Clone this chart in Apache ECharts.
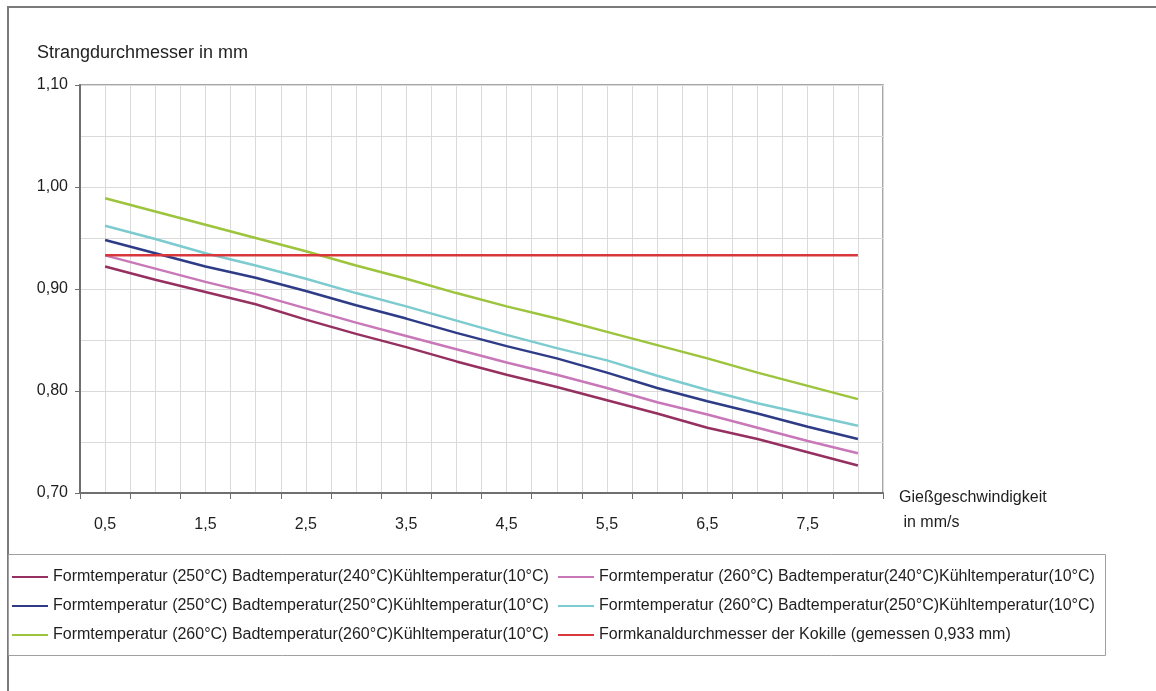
<!DOCTYPE html>
<html>
<head>
<meta charset="utf-8">
<script src="https://cdn.jsdelivr.net/npm/echarts@6/dist/echarts.min.js"></script>
<style>
html,body{margin:0;padding:0;background:#fff;}
#chart{width:1156px;height:691px;}
</style>
</head>
<body>
<div id="chart"></div>
<script>
// Gießgeschwindigkeit in mm/s
const speeds = [0.5,1.0,1.5,2.0,2.5,3.0,3.5,4.0,4.5,5.0,5.5,6.0,6.5,7.0,7.5,8.0];
// Strangdurchmesser in mm
const f250b240 = [0.922,0.909,0.897,0.885,0.870,0.856,0.843,0.829,0.816,0.804,0.791,0.778,0.764,0.753,0.740,0.727];
const f260b240 = [0.933,0.920,0.907,0.895,0.881,0.867,0.854,0.841,0.828,0.816,0.803,0.789,0.777,0.764,0.751,0.739];
const f250b250 = [0.948,0.935,0.922,0.911,0.898,0.884,0.871,0.857,0.844,0.832,0.818,0.803,0.790,0.778,0.765,0.753];
const f260b250 = [0.962,0.949,0.935,0.923,0.910,0.896,0.883,0.869,0.855,0.842,0.830,0.815,0.801,0.788,0.777,0.766];
const f260b260 = [0.989,0.976,0.963,0.950,0.937,0.923,0.910,0.896,0.883,0.871,0.858,0.845,0.832,0.818,0.805,0.792];
const kokille  = [0.933,0.933,0.933,0.933,0.933,0.933,0.933,0.933,0.933,0.933,0.933,0.933,0.933,0.933,0.933,0.933];

const seriesNames = [
  'Formtemperatur (250°C) Badtemperatur(240°C)Kühltemperatur(10°C)',
  'Formtemperatur (260°C) Badtemperatur(240°C)Kühltemperatur(10°C)',
  'Formtemperatur (250°C) Badtemperatur(250°C)Kühltemperatur(10°C)',
  'Formtemperatur (260°C) Badtemperatur(250°C)Kühltemperatur(10°C)',
  'Formtemperatur (260°C) Badtemperatur(260°C)Kühltemperatur(10°C)',
  'Formkanaldurchmesser der Kokille (gemessen 0,933 mm)'
];
const seriesValues = [f250b240, f260b240, f250b250, f260b250, f260b260, kokille];
const seriesColors = ['#963060', '#c878b8', '#2e3c88', '#7ccbcf', '#9cc43c', '#d8383c'];

const yTitle = 'Strangdurchmesser in mm';
const xTitle = 'Gießgeschwindigkeit\n in mm/s';

const FONT = '"Liberation Sans", Arial, sans-serif';
const chart = echarts.init(document.getElementById('chart'), null, {renderer: 'canvas'});

const series = seriesNames.map((name, i) => ({
  name: name,
  type: 'line',
  xAxisIndex: 0,
  yAxisIndex: 0,
  symbol: 'none',
  smooth: false,
  lineStyle: {color: seriesColors[i], width: 2.5},
  itemStyle: {color: seriesColors[i]},
  data: speeds.map((s, j) => [s, seriesValues[i][j]]),
  z: i === 5 ? 3 : 2
}));

const legendCommon = {
  orient: 'vertical',
  icon: 'rect',
  itemWidth: 36,
  itemHeight: 2,
  itemGap: 13,
  padding: 0,
  textStyle: {fontFamily: FONT, fontSize: 16, color: '#1e1e1e'},
  selectedMode: false
};

chart.setOption({
  backgroundColor: '#ffffff',
  animation: false,
  textStyle: {fontFamily: FONT},
  grid: {
    left: 80, right: 273, top: 85, bottom: 198,
    show: true, borderColor: '#8a8a8a', borderWidth: 1.5, backgroundColor: 'transparent'
  },
  graphic: [
    {type: 'rect', shape: {x: 8, y: 7, width: 1300, height: 800}, style: {fill: 'none', stroke: '#7a7a7a', lineWidth: 2}, silent: true},
    {type: 'rect', shape: {x: 8.5, y: 554.5, width: 1097, height: 101}, style: {fill: 'none', stroke: '#a0a0a0', lineWidth: 1}, silent: true}
  ],
  legend: [
    Object.assign({}, legendCommon, {left: 12, top: 569, data: [seriesNames[0], seriesNames[2], seriesNames[4]]}),
    Object.assign({}, legendCommon, {left: 558, top: 569, data: [seriesNames[1], seriesNames[3], seriesNames[5]]})
  ],
  xAxis: [
    {
      type: 'value', min: 0.25, max: 8.25, interval: 0.25, position: 'bottom',
      name: xTitle, nameLocation: 'end', nameGap: 16,
      nameTextStyle: {fontFamily: FONT, fontSize: 16, color: '#1e1e1e', align: 'left', verticalAlign: 'top', lineHeight: 25, padding: [-8,0,0,0]},
      axisLine: {show: true, lineStyle: {color: '#6f6f6f', width: 2}},
      axisTick: {show: false},
      splitLine: {show: true, lineStyle: {color: '#dadada', width: 1}},
      axisLabel: {
        margin: 24, fontSize: 16, color: '#1e1e1e', fontFamily: FONT,
        formatter: function (v) {
          const r = Math.round(v * 100) / 100;
          const frac = Math.round((r - Math.floor(r)) * 100);
          if (frac === 50 && r < 8) return r.toFixed(1).replace('.', ',');
          return '';
        }
      }
    },
    {
      type: 'value', min: 0, max: 8, interval: 0.5, position: 'bottom',
      axisLine: {show: false},
      axisTick: {show: true, length: 6, lineStyle: {color: '#6f6f6f', width: 1}},
      axisLabel: {show: false},
      splitLine: {show: false}
    }
  ],
  yAxis: {
    type: 'value', min: 0.7, max: 1.1, interval: 0.1,
    name: yTitle, nameLocation: 'end', nameGap: 23,
    nameTextStyle: {fontFamily: FONT, fontSize: 18, color: '#1e1e1e', align: 'left', padding: [0,0,0,-43]},
    axisLine: {show: true, lineStyle: {color: '#6f6f6f', width: 2}},
    axisTick: {show: true, length: 5, lineStyle: {color: '#6f6f6f'}},
    splitLine: {show: true, lineStyle: {color: '#dadada', width: 1}},
    minorTick: {show: false, splitNumber: 2},
    minorSplitLine: {show: true, lineStyle: {color: '#dadada', width: 1}},
    axisLabel: {
      margin: 12, fontSize: 16, color: '#1e1e1e', fontFamily: FONT,
      formatter: function (v) { return v.toFixed(2).replace('.', ','); }
    }
  },
  series: series
});
</script>
</body>
</html>
